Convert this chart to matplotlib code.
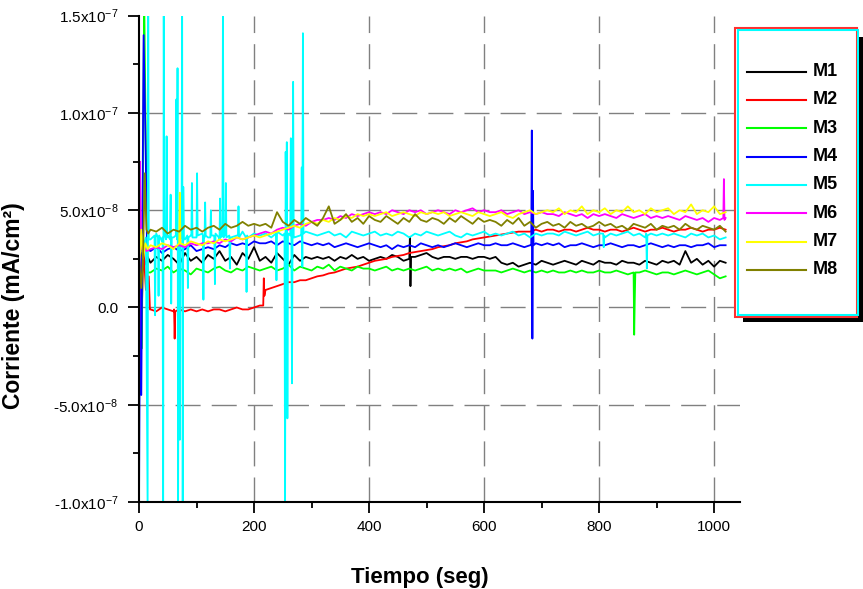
import numpy as np
import matplotlib.pyplot as plt
from matplotlib.patches import Rectangle
from matplotlib.ticker import FixedLocator, MultipleLocator

plt.rcParams['font.family'] = ['Liberation Sans', 'DejaVu Sans']
plt.rcParams['mathtext.fontset'] = 'custom'
plt.rcParams['mathtext.rm'] = 'Liberation Sans'
plt.rcParams['mathtext.it'] = 'Liberation Sans:italic'
plt.rcParams['mathtext.bf'] = 'Liberation Sans:bold'

UNIT = 1e-8   # all current values below are in units of 1e-8 mA/cm2

# regular sampling, every 10 s
t_base = np.arange(20, 1021, 10)

m1_base = [2.3, 2.6, 2.4, 2.7, 2.5, 2.2, 2.8, 2.4, 2.6, 2.3,
           2.7, 2.5, 2.9, 2.4, 2.6, 2.2, 2.8, 2.5, 3.1, 2.4,
           2.6, 2.3, 2.8, 2.5, 2.2, 2.7, 2.4, 2.6, 2.5, 2.6,
           2.5, 2.6, 2.4, 2.6, 2.5, 2.7, 2.5, 2.6, 2.4, 2.5,
           2.6, 2.5, 2.7, 2.6, 2.4, 2.5, 2.6, 2.7, 2.8, 2.6,
           2.5, 2.6, 2.6, 2.5, 2.6, 2.6, 2.5, 2.6, 2.6, 2.5,
           2.6, 2.3, 2.2, 2.3, 2.1, 2.2, 2.3, 2.2, 2.4, 2.3,
           2.2, 2.3, 2.4, 2.3, 2.2, 2.4, 2.3, 2.2, 2.4, 2.3,
           2.3, 2.2, 2.4, 2.3, 2.3, 2.2, 2.4, 2.3, 2.2, 2.4,
           2.3, 2.4, 2.2, 2.9, 2.3, 2.5, 2.2, 2.4, 2.1, 2.4, 2.3]
m1_extra_t = [0, 5, 10, 15, 471, 472, 473]
m1_extra_v = [2.5, 2.8, 2.2, 2.6, 3.6, 1.1, 2.6]

m2_base = [-0.1, -0.2, 0.0, -0.1, -0.2, -0.1, -0.2, -0.1, -0.2, -0.1,
           -0.2, -0.1, -0.1, -0.2, -0.1, 0.0, -0.1, -0.1, 0.0, 0.1,
           0.9, 1.0, 1.1, 1.2, 1.3, 1.3, 1.4, 1.4, 1.5, 1.6,
           1.65, 1.75, 1.8, 1.9, 2.0, 2.05, 2.1, 2.2, 2.3, 2.4,
           2.45, 2.5, 2.6, 2.65, 2.7, 2.8, 2.85, 2.9, 2.95, 3.0,
           3.1, 3.15, 3.2, 3.3, 3.35, 3.4, 3.5, 3.55, 3.6, 3.65,
           3.7, 3.75, 3.8, 3.85, 3.9, 3.9, 3.9, 4.0, 3.9, 4.0,
           4.0, 3.9, 4.0, 4.0, 3.9, 4.0, 4.1, 4.0, 4.0, 3.9,
           4.0, 4.0, 3.9, 4.0, 4.1, 4.0, 3.9, 4.0, 4.0, 4.1,
           4.0, 3.9, 4.0, 4.0, 4.1, 4.0, 3.9, 4.0, 4.0, 4.1, 4.0]
m2_extra_t = [0, 4, 8, 12, 17, 19, 61, 62, 63, 216, 217, 218]
m2_extra_v = [2.0, -0.9, 3.0, 0.9, 1.6, -0.1, -0.1, -1.6, -0.2, 0.1, 1.5, 0.6]

m3_base = [1.8, 2.0, 1.9, 2.1, 1.8, 2.0, 1.9, 1.7, 2.0, 1.9,
           1.8, 2.0, 2.1, 1.9, 1.8, 2.0, 1.9, 2.1, 2.0, 1.9,
           2.0, 2.1, 1.9, 2.0, 2.2, 1.9, 2.1, 2.0, 1.9, 2.1,
           2.0, 2.2, 1.9, 2.1, 2.0, 1.9, 2.1, 2.0, 2.0, 1.9,
           2.0, 2.1, 1.9, 2.0, 1.9, 2.0, 1.9, 2.0, 2.1, 1.9,
           2.0, 1.9, 2.0, 1.9, 2.0, 1.8, 1.9, 2.0, 1.9, 1.9,
           1.9, 1.8, 1.9, 2.0, 1.9, 1.8, 1.9, 1.8, 1.9, 1.8,
           1.9, 1.8, 1.8, 1.9, 1.8, 1.9, 1.8, 1.8, 1.9, 1.8,
           1.8, 1.9, 1.8, 1.7, 1.8, 1.8, 1.9, 1.8, 1.7, 1.8,
           1.8, 1.7, 1.8, 1.9, 1.8, 1.7, 1.8, 1.9, 1.7, 1.5, 1.6]
m3_extra_t = [0, 5, 9, 12, 15, 861, 862, 863]
m3_extra_v = [2.0, -2.1, 16.0, 8.0, 1.8, -1.4, 0.4, 1.8]

m4_base = [2.9, 3.1, 2.8, 3.0, 3.1, 2.9, 3.0, 3.2, 2.9, 3.0,
           3.1, 3.0, 3.2, 3.1, 3.3, 3.2, 3.3, 3.2, 3.4, 3.3,
           3.3, 3.4, 3.2, 3.4, 3.3, 3.2, 3.4, 3.3, 3.2, 3.3,
           3.2, 3.3, 3.1, 3.2, 3.3, 3.2, 3.1, 3.2, 3.3, 3.2,
           3.1, 3.2, 3.0, 3.2, 3.1, 3.2, 3.1, 3.3, 3.2, 3.1,
           3.2, 3.1, 3.2, 3.3, 3.2, 3.1, 3.2, 3.3, 3.2, 3.2,
           3.3, 3.2, 3.2, 3.3, 3.2, 3.1, 3.2, 3.3, 3.2, 3.3,
           3.2, 3.3, 3.1, 3.2, 3.2, 3.3, 3.2, 3.1, 3.2, 3.2,
           3.3, 3.2, 3.1, 3.2, 3.2, 3.1, 3.2, 3.3, 3.2, 3.1,
           3.2, 3.1, 3.2, 3.2, 3.1, 3.2, 3.2, 3.3, 3.1, 3.2, 3.2]
m4_extra_t = [0, 2, 4, 8, 11, 14, 682, 683, 684, 685, 686]
m4_extra_v = [-10.5, 2.7, -4.5, 14.0, 9.2, 3.0, 3.2, 9.1, -1.6, 6.0, 3.2]

m5_base = [3.5, 3.8, 3.4, 3.7, 3.6, 3.9, 3.5, 3.7, 3.6, 3.8,
           3.6, 3.7, 3.5, 3.8, 3.6, 3.7, 3.9, 3.6, 3.8, 3.7,
           3.8, 3.6, 3.9, 3.7, 3.8, 3.6, 3.7, 3.9, 3.8, 3.7,
           3.8, 3.9, 3.7, 3.8, 3.6, 3.9, 3.8, 3.7, 3.8, 3.9,
           3.7, 3.8, 3.7, 3.9, 3.8, 3.6, 3.8, 3.7, 3.9, 3.8,
           3.7, 3.8, 3.9, 3.7, 3.6, 3.8, 3.7, 3.8, 3.9, 3.7,
           3.8, 3.7, 3.8, 3.9, 3.7, 3.8, 3.6, 3.8, 3.7, 3.8,
           3.8, 3.7, 3.9, 3.8, 3.7, 3.8, 3.9, 3.7, 3.8, 3.6,
           3.8, 3.7, 3.8, 3.9, 3.7, 3.8, 3.6, 3.8, 3.7, 3.8,
           3.7, 3.8, 3.7, 3.6, 3.8, 3.7, 3.8, 3.6, 3.7, 3.5, 3.6]
# M5 is very unstable during the first 300 s
m5_extra_t = [0, 4, 8, 12, 14, 15, 16, 17, 27, 28, 29, 33, 34, 35,
              41, 42, 43, 44, 47, 48, 49, 54, 55, 56, 57,
              64, 65, 66, 67, 68, 69, 71, 72, 74, 75, 76, 77, 78,
              84, 85, 86, 91, 92, 93, 99, 101, 102,
              111, 112, 113, 114, 115, 116, 124, 125, 126, 131, 132, 133,
              139, 141, 142, 145, 146, 147, 149, 151, 152, 157, 158, 159,
              172, 173, 174, 186, 187, 188, 238, 239,
              253, 254, 255, 256, 257, 258, 259, 263, 264, 265, 266, 267, 268, 269,
              282, 283, 284, 285, 286, 807, 808, 809, 882, 883, 884]
m5_extra_v = [3.5, 3.8, 3.2, 3.6, -6.3, -10.5, 16.0, 3.5, 3.7, -0.4, 3.6, 3.6, 0.6, 3.7,
              3.6, -10.5, 16.0, 3.8, 3.5, 8.8, 3.6, 3.5, 5.8, 0.2, 3.6,
              3.7, 10.7, 3.5, 12.3, -10.5, 3.6, -6.8, 3.7, 3.6, 16.0, -10.5, 6.2, 3.5,
              3.7, 1.0, 3.6, 3.7, 6.4, 3.6, 3.6, 6.9, 3.7,
              3.7, 0.4, 3.6, 3.6, 5.4, 3.7, 3.6, 5.0, 3.7, 3.6, 1.2, 3.8,
              3.6, 5.6, 3.6, 3.7, 16.0, 3.6, 3.7, 6.4, 3.6, 3.7, 2.0, 3.6,
              3.7, 5.2, 3.6, 3.6, 0.8, 3.7, 3.8, 1.4,
              3.8, -10.5, 8.0, 3.7, 8.5, -5.7, 3.8, 3.7, 8.7, 3.7, -3.9, 3.8, 11.6, 3.6,
              3.7, 7.2, 2.1, 14.1, 3.8, 3.8, 3.1, 3.7, 3.8, 2.0, 3.7]

m6_base = [3.0, 3.1, 3.0, 3.2, 3.1, 3.2, 3.1, 3.3, 3.2, 3.3,
           3.3, 3.4, 3.3, 3.5, 3.4, 3.6, 3.5, 3.6, 3.7, 3.8,
           3.9, 3.8, 4.0, 4.1, 4.0, 4.2, 4.3, 4.2, 4.4, 4.5,
           4.5, 4.6, 4.5, 4.7, 4.6, 4.8, 4.7, 4.8, 4.9, 4.8,
           4.9, 4.8, 5.0, 4.9, 4.8, 5.0, 4.9, 5.0, 4.8, 4.9,
           5.0, 4.9, 4.8, 5.0, 4.9, 5.0, 5.1, 4.9, 5.0, 4.9,
           4.9, 5.0, 4.8, 4.9, 5.0, 4.8, 4.9, 4.8, 4.9, 4.8,
           4.8, 4.7, 4.9, 4.8, 4.7, 4.8, 4.6, 4.8, 4.7, 4.8,
           4.7, 4.6, 4.8, 4.7, 4.6, 4.7, 4.8, 4.6, 4.7, 4.6,
           4.7, 4.6, 4.5, 4.7, 4.6, 4.5, 4.6, 4.4, 4.6, 4.5, 4.6]
m6_extra_t = [0, 1.5, 4, 8, 13, 1016, 1017, 1018]
m6_extra_v = [-5.6, 7.5, 3.0, 3.2, 2.9, 4.6, 6.6, 4.5]

m7_base = [3.2, 3.1, 3.3, 3.2, 3.0, 3.3, 3.2, 3.4, 3.3, 3.2,
           3.4, 3.3, 3.5, 3.4, 3.5, 3.6, 3.5, 3.6, 3.7, 3.6,
           3.7, 3.8, 3.9, 4.0, 4.1, 4.2, 4.1, 4.3, 4.4, 4.3,
           4.5, 4.4, 4.6, 4.5, 4.7, 4.6, 4.8, 4.7, 4.8, 4.7,
           4.8, 4.9, 4.7, 4.8, 4.9, 4.8, 4.7, 4.9, 4.8, 4.9,
           4.8, 4.9, 4.7, 4.8, 4.9, 4.8, 4.7, 4.9, 4.8, 4.7,
           4.8, 4.9, 4.7, 4.6, 4.8, 4.9, 5.0, 4.8, 4.9, 5.0,
           4.9, 5.1, 4.8, 5.0, 4.9, 5.2, 4.8, 5.0, 4.9, 5.1,
           4.8, 5.0, 4.9, 5.2, 4.9, 5.0, 4.8, 5.1, 4.9, 5.0,
           5.1, 4.8, 5.0, 4.9, 5.3, 4.8, 5.0, 4.9, 5.2, 4.8, 4.9]
m7_extra_t = [0, 4, 7, 11, 15, 71, 72]
m7_extra_v = [2.0, 4.0, 2.5, 3.3, 3.0, 5.9, 3.3]

m8_base = [4.0, 3.9, 4.1, 3.8, 4.0, 3.9, 4.2, 4.0, 4.1, 3.9,
           4.1, 4.2, 4.0, 4.3, 4.1, 4.2, 4.4, 4.2, 4.3, 4.2,
           4.3, 4.1, 4.9, 4.4, 4.2, 4.5, 4.3, 4.6, 4.4, 4.2,
           4.6, 5.2, 4.3, 4.5, 4.8, 4.4, 4.6, 4.3, 4.7, 4.5,
           4.4, 4.7, 4.5, 4.3, 4.6, 4.4, 4.8, 4.5, 4.4, 4.6,
           4.5, 4.3, 4.6, 4.4, 4.7, 4.5, 4.3, 4.6, 4.4, 4.5,
           4.4, 4.2, 4.5, 4.3, 4.6, 4.2, 4.4, 4.1, 4.3, 4.4,
           4.2, 4.3, 4.1, 4.4, 4.2, 4.3, 4.1, 4.2, 4.4, 4.2,
           4.3, 4.1, 4.2, 4.0, 4.3, 4.2, 4.1, 4.3, 4.0, 4.2,
           4.1, 4.2, 4.0, 4.3, 4.1, 4.0, 4.2, 4.1, 4.0, 4.2, 3.9]
m8_extra_t = [0, 4, 7, 10, 13, 16]
m8_extra_v = [2.5, 1.0, 2.6, 6.9, 4.0, 3.8]

names = ["M1", "M2", "M3", "M4", "M5", "M6", "M7", "M8"]
colors = ["#000000", "#ff0000", "#00ff00", "#0000ff",
          "#00ffff", "#ff00ff", "#ffff00", "#808000"]
bases = [m1_base, m2_base, m3_base, m4_base, m5_base, m6_base, m7_base, m8_base]
extras_t = [m1_extra_t, m2_extra_t, m3_extra_t, m4_extra_t,
            m5_extra_t, m6_extra_t, m7_extra_t, m8_extra_t]
extras_v = [m1_extra_v, m2_extra_v, m3_extra_v, m4_extra_v,
            m5_extra_v, m6_extra_v, m7_extra_v, m8_extra_v]

y_ticks = [-1e-7, -5e-8, 0.0, 5e-8, 1e-7, 1.5e-7]
y_labels = ["-1.0x10$^{-7}$", "-5.0x10$^{-8}$", "0.0",
            "5.0x10$^{-8}$", "1.0x10$^{-7}$", "1.5x10$^{-7}$"]
x_ticks = [0, 200, 400, 600, 800, 1000]


def merge(base, et, ev):
    # put the irregular samples in between the regular ones
    t = np.concatenate([t_base, et])
    v = np.concatenate([base, ev]) * UNIT
    order = np.argsort(t, kind="stable")
    return t[order], v[order]


W, H = 863, 589
fig = plt.figure(figsize=(W / 100, H / 100), dpi=100)
ax = fig.add_axes([139 / W, 1 - 502 / H, 601 / W, 486.3 / H])

for y in y_ticks[1:-1]:
    ax.axhline(y, color="#808080", lw=1.0, ls=(0, (18, 8)), zorder=1)
for x in x_ticks[1:]:
    ax.axvline(x, color="#808080", lw=1.0, ls=(0, (18, 8)), zorder=1)

for name, c, b, et, ev in zip(names, colors, bases, extras_t, extras_v):
    t, v = merge(b, et, ev)
    ax.plot(t, v, color=c, lw=1.3, zorder=2)

ax.set_xlim(0, 1045)
ax.set_ylim(-1e-7, 1.5e-7)
ax.yaxis.set_major_locator(FixedLocator(y_ticks))
ax.set_yticklabels(y_labels)
ax.yaxis.set_minor_locator(MultipleLocator(2.5e-8))
ax.xaxis.set_major_locator(FixedLocator(x_ticks))
ax.xaxis.set_minor_locator(MultipleLocator(100))

for s in ["top", "right"]:
    ax.spines[s].set_visible(False)
for s in ["left", "bottom"]:
    ax.spines[s].set_linewidth(1.5)

ax.tick_params(which="major", direction="out", length=8, width=1.3)
ax.tick_params(which="minor", direction="out", length=4, width=1.3)
ax.tick_params(axis="y", which="major", labelsize=11, pad=7)
ax.tick_params(axis="x", which="major", labelsize=11, pad=5)

ax.set_xlabel("Tiempo (seg)", fontsize=16, fontweight="bold")
ax.xaxis.set_label_coords(0.4675, -0.134)
ax.set_ylabel("Corriente (mA/cm²)", fontsize=16.5, fontweight="bold")
ax.yaxis.set_label_coords(-0.19, 0.403)

# legend box drawn in pixel coordinates on top of everything
lax = fig.add_axes([0, 0, 1, 1], zorder=5)
lax.set_xlim(0, W)
lax.set_ylim(H, 0)
lax.axis("off")
lax.add_patch(Rectangle((743, 37), 120, 285, facecolor="black", edgecolor="none"))
lax.add_patch(Rectangle((734.5, 27.5), 122, 289, facecolor="white",
                        edgecolor="#ff3030", lw=1.5))
lax.add_patch(Rectangle((737.5, 30), 120, 285, facecolor="none",
                        edgecolor="#00ffff", lw=1.5))
for i, (name, c) in enumerate(zip(names, colors)):
    y = 71.7 + 28.3 * i
    lax.plot([747, 806], [y, y], color=c, lw=1.5)
    lax.text(813, y, name, va="center", ha="left", fontsize=13, fontweight="bold")

fig.savefig("out.png", dpi=100)
